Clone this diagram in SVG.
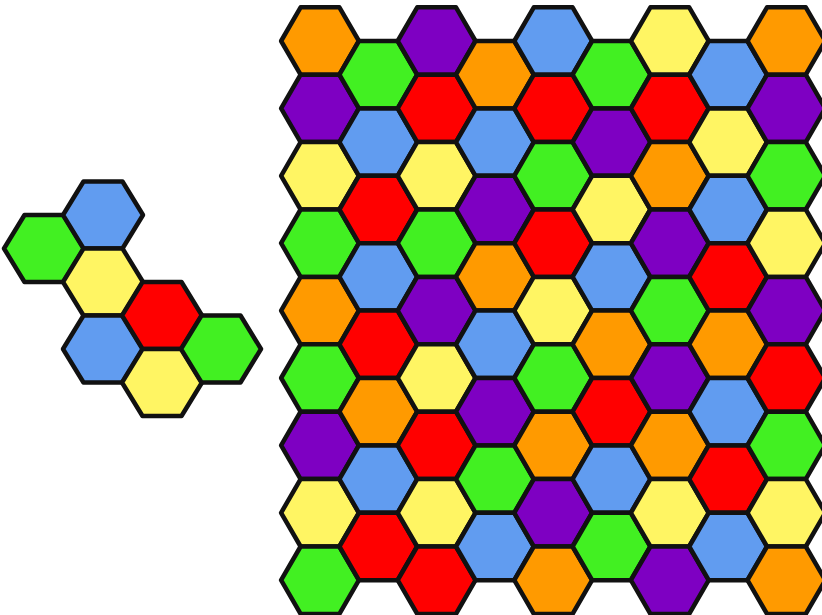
<svg xmlns="http://www.w3.org/2000/svg" xmlns:xlink="http://www.w3.org/1999/xlink" width="822" height="615" viewBox="0 0 822 615">
<style>
use, polygon { stroke:#111; stroke-width:4.5; stroke-linejoin:round; }
.o{fill:#FF9A00}.p{fill:#7E00C2}.b{fill:#619CF0}.y{fill:#FFF563}.g{fill:#42F022}.r{fill:#FF0000}
</style>
<defs>
<polygon id="h" points="38.9,0 19.4,33.7 -19.4,33.7 -38.9,0 -19.4,-33.7 19.4,-33.7"/>
<polygon id="k" points="40,0 19.5,33.5 -19.5,33.5 -40,0 -19.5,-33.5 19.5,-33.5"/>
</defs>
<rect width="822" height="615" fill="#fff"/>
<g id="cluster">
<use href="#k" x="44" y="248.5" class="g"/>
<use href="#k" x="103" y="215" class="b"/>
<use href="#k" x="103" y="282" class="y"/>
<use href="#k" x="103" y="349" class="b"/>
<use href="#k" x="162" y="315.5" class="r"/>
<use href="#k" x="162" y="382.5" class="y"/>
<use href="#k" x="221" y="349" class="g"/>
</g>
<g id="grid">
<g id="col0">
<use href="#h" x="320" y="41" class="o"/>
<use href="#h" x="320" y="108.4" class="p"/>
<use href="#h" x="320" y="175.8" class="y"/>
<use href="#h" x="320" y="243.2" class="g"/>
<use href="#h" x="320" y="310.6" class="o"/>
<use href="#h" x="320" y="378" class="g"/>
<use href="#h" x="320" y="445.4" class="p"/>
<use href="#h" x="320" y="512.8" class="y"/>
<use href="#h" x="320" y="580.2" class="g"/>
</g>
<g id="col1">
<use href="#h" x="378.3" y="74.7" class="g"/>
<use href="#h" x="378.3" y="142.1" class="b"/>
<use href="#h" x="378.3" y="209.5" class="r"/>
<use href="#h" x="378.3" y="276.9" class="b"/>
<use href="#h" x="378.3" y="344.3" class="r"/>
<use href="#h" x="378.3" y="411.7" class="o"/>
<use href="#h" x="378.3" y="479.1" class="b"/>
<use href="#h" x="378.3" y="546.5" class="r"/>
</g>
<g id="col2">
<use href="#h" x="436.6" y="41" class="p"/>
<use href="#h" x="436.6" y="108.4" class="r"/>
<use href="#h" x="436.6" y="175.8" class="y"/>
<use href="#h" x="436.6" y="243.2" class="g"/>
<use href="#h" x="436.6" y="310.6" class="p"/>
<use href="#h" x="436.6" y="378" class="y"/>
<use href="#h" x="436.6" y="445.4" class="r"/>
<use href="#h" x="436.6" y="512.8" class="y"/>
<use href="#h" x="436.6" y="580.2" class="r"/>
</g>
<g id="col3">
<use href="#h" x="494.9" y="74.7" class="o"/>
<use href="#h" x="494.9" y="142.1" class="b"/>
<use href="#h" x="494.9" y="209.5" class="p"/>
<use href="#h" x="494.9" y="276.9" class="o"/>
<use href="#h" x="494.9" y="344.3" class="b"/>
<use href="#h" x="494.9" y="411.7" class="p"/>
<use href="#h" x="494.9" y="479.1" class="g"/>
<use href="#h" x="494.9" y="546.5" class="b"/>
</g>
<g id="col4">
<use href="#h" x="553.2" y="41" class="b"/>
<use href="#h" x="553.2" y="108.4" class="r"/>
<use href="#h" x="553.2" y="175.8" class="g"/>
<use href="#h" x="553.2" y="243.2" class="r"/>
<use href="#h" x="553.2" y="310.6" class="y"/>
<use href="#h" x="553.2" y="378" class="g"/>
<use href="#h" x="553.2" y="445.4" class="o"/>
<use href="#h" x="553.2" y="512.8" class="p"/>
<use href="#h" x="553.2" y="580.2" class="o"/>
</g>
<g id="col5">
<use href="#h" x="611.5" y="74.7" class="g"/>
<use href="#h" x="611.5" y="142.1" class="p"/>
<use href="#h" x="611.5" y="209.5" class="y"/>
<use href="#h" x="611.5" y="276.9" class="b"/>
<use href="#h" x="611.5" y="344.3" class="o"/>
<use href="#h" x="611.5" y="411.7" class="r"/>
<use href="#h" x="611.5" y="479.1" class="b"/>
<use href="#h" x="611.5" y="546.5" class="g"/>
</g>
<g id="col6">
<use href="#h" x="669.8" y="41" class="y"/>
<use href="#h" x="669.8" y="108.4" class="r"/>
<use href="#h" x="669.8" y="175.8" class="o"/>
<use href="#h" x="669.8" y="243.2" class="p"/>
<use href="#h" x="669.8" y="310.6" class="g"/>
<use href="#h" x="669.8" y="378" class="p"/>
<use href="#h" x="669.8" y="445.4" class="o"/>
<use href="#h" x="669.8" y="512.8" class="y"/>
<use href="#h" x="669.8" y="580.2" class="p"/>
</g>
<g id="col7">
<use href="#h" x="728.1" y="74.7" class="b"/>
<use href="#h" x="728.1" y="142.1" class="y"/>
<use href="#h" x="728.1" y="209.5" class="b"/>
<use href="#h" x="728.1" y="276.9" class="r"/>
<use href="#h" x="728.1" y="344.3" class="o"/>
<use href="#h" x="728.1" y="411.7" class="b"/>
<use href="#h" x="728.1" y="479.1" class="r"/>
<use href="#h" x="728.1" y="546.5" class="b"/>
</g>
<g id="col8">
<use href="#h" x="786.4" y="41" class="o"/>
<use href="#h" x="786.4" y="108.4" class="p"/>
<use href="#h" x="786.4" y="175.8" class="g"/>
<use href="#h" x="786.4" y="243.2" class="y"/>
<use href="#h" x="786.4" y="310.6" class="p"/>
<use href="#h" x="786.4" y="378" class="r"/>
<use href="#h" x="786.4" y="445.4" class="g"/>
<use href="#h" x="786.4" y="512.8" class="y"/>
<use href="#h" x="786.4" y="580.2" class="o"/>
</g>
</g>
</svg>
